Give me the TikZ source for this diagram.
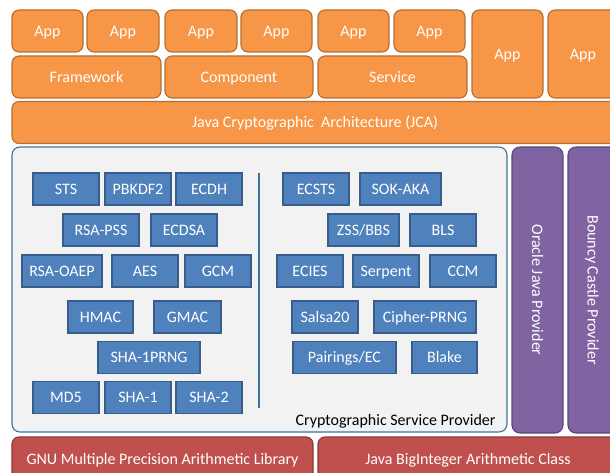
\documentclass[tikz,border=0pt]{standalone}
\usepackage{fontspec}
\setmainfont{Carlito}
\usepackage{xcolor}
\usepackage{tikz}
\definecolor{AppFill}{HTML}{F79646}
\definecolor{AppLine}{HTML}{B66D31}
\definecolor{AlgoFill}{HTML}{4F81BD}
\definecolor{AlgoLine}{HTML}{385D8A}
\definecolor{CspFill}{HTML}{F2F2F2}
\definecolor{CspLine}{HTML}{41719C}
\definecolor{ProvFill}{HTML}{8064A2}
\definecolor{ProvLine}{HTML}{5C4776}
\definecolor{MathFill}{HTML}{C0504D}
\definecolor{MathLine}{HTML}{8C3836}

\begin{document}
\begin{tikzpicture}[
  x=1pt,y=-1pt,
  boxtext/.style={inner sep=0pt,text=white,text height=10.6pt,text depth=0pt,font=\fontsize{16}{18}\selectfont},
  appbox/.style={boxtext,draw=AppLine,fill=AppFill,line width=1.1pt,rounded corners=7pt,minimum height=42pt},
  algobox/.style={boxtext,draw=AlgoLine,fill=AlgoFill,line width=1.1pt,minimum height=32pt},
  cspbox/.style={draw=CspLine,fill=CspFill,line width=1.1pt,rounded corners=8pt,minimum width=495pt,minimum height=285pt},
  provbox/.style={boxtext,draw=ProvLine,fill=ProvFill,line width=1.1pt,rounded corners=8pt,rotate=-90,minimum width=286pt,minimum height=51pt},
  mathbox/.style={boxtext,draw=MathLine,fill=MathFill,line width=1.1pt,rounded corners=7pt,minimum height=44pt},
  divider/.style={draw=CspLine,line width=1.1pt}
]
\useasboundingbox (0,0) rectangle (610,473);
\clip (0,0) rectangle (610,473);
% applications
\node[appbox,minimum width=71pt] (app1) at (47.5,31) {App};
\node[appbox,minimum width=72pt] (app2) at (123,31) {App};
\node[appbox,minimum width=72pt] (app3) at (201,31) {App};
\node[appbox,minimum width=71pt] (app4) at (276.5,31) {App};
\node[appbox,minimum width=71pt] (app5) at (353.5,31) {App};
\node[appbox,minimum width=71pt] (app6) at (429.5,31) {App};
\node[appbox,minimum width=71pt,minimum height=88pt] (app7) at (507.5,54) {App};
\node[appbox,minimum width=70pt,minimum height=88pt] (app8) at (583,54) {App};
\node[appbox,minimum width=149pt] (frame) at (86.5,77) {Framework};
\node[appbox,minimum width=148pt] (comp) at (239,77) {Component};
\node[appbox,minimum width=149pt] (serv) at (392.5,77) {Service};
\node[appbox,minimum width=606pt] (jca) at (315,122.5) {Java Cryptographic~ Architecture (JCA)};
% providers
\node[cspbox] (csp) at (259.5,289.5) {};
\node[anchor=east,font=\fontsize{16}{18}\selectfont] (csplabel) at (499,421) {Cryptographic Service Provider};
\node[provbox] (oracle) at (537.5,290) {Oracle Java Provider};
\node[provbox,minimum height=50pt] (bouncy) at (593,290) {Bouncy Castle Provider};
% algorithms
\foreach \name/\cx/\cy/\w/\txt in {
  sts/66/189/66/STS, pbkdf/138/189/66/PBKDF2, ecdh/209/189/66/ECDH,
  rsapss/101/230/76/RSA-PSS, ecdsa/184/230/66/ECDSA,
  rsaoaep/62/271/80/RSA-OAEP, aes/145/271/66/AES, gcm/218/271/66/GCM,
  hmac/100.5/317/65/HMAC, gmac/187.5/317/67/GMAC,
  shaprng/149/357.5/102/SHA-1PRNG,
  mdfive/66/397.5/66/MD5, shaone/138/397.5/66/SHA-1, shatwo/209/397.5/66/SHA-2,
  ecsts/316/189/66/ECSTS, sokaka/400.5/189/81/SOK-AKA,
  zss/363.5/230/71/{ZSS/BBS}, bls/443/230/66/BLS,
  ecies/310/271/66/ECIES, serpent/386/271/66/Serpent, ccm/463/271/66/CCM,
  salsa/325/317/66/Salsa20, cprng/425/317/102/Cipher-PRNG,
  pairings/344.5/357.5/103/{Pairings/EC}, blake/444.5/357.5/65/Blake}
  \node[algobox,minimum width=\w pt] (\name) at (\cx,\cy) {\txt};
\coordinate (divtop) at (259,173);
\coordinate (divbot) at (259,408);
\draw[divider] (divtop) -- (divbot);
% arithmetic
\node[mathbox,minimum width=301pt] (gnu) at (162.5,459) {GNU Multiple Precision Arithmetic Library};
\node[mathbox,minimum width=300pt] (bigint) at (468,459) {Java BigInteger Arithmetic Class};
\end{tikzpicture}
\end{document}
